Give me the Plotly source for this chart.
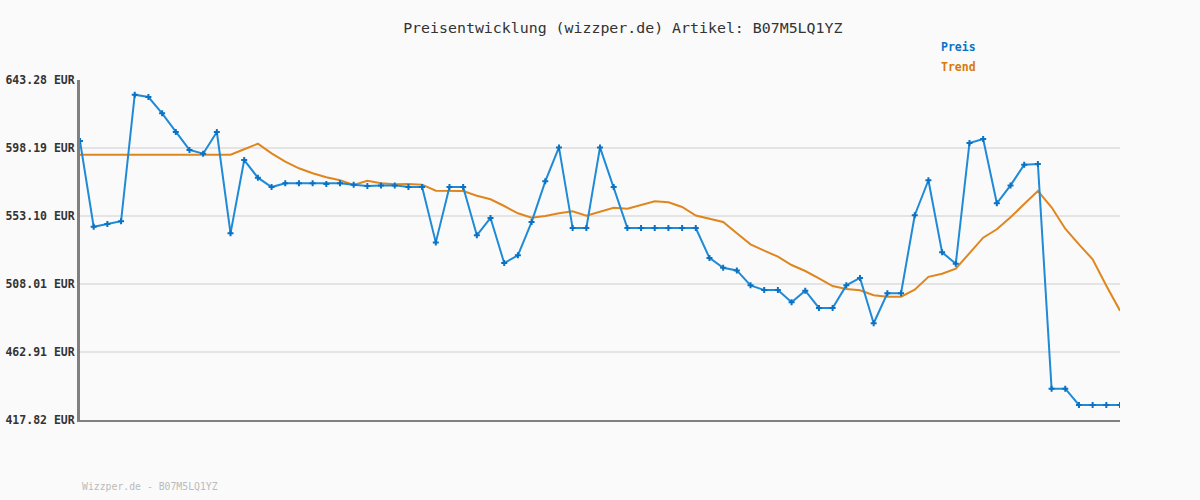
import plotly.graph_objects as go

# price samples (EUR), one per time step
preis = [602.8, 546.0, 547.8, 549.6, 633.5, 632.0, 621.2, 608.8, 596.9, 594.4,
         608.8, 541.6, 590.2, 578.5, 572.3, 574.8, 574.8, 574.8, 574.3, 574.8,
         573.9, 573.0, 573.4, 573.4, 572.3, 572.3, 535.6, 572.3, 572.3, 540.3,
         551.8, 521.9, 527.0, 549.1, 576.1, 598.6, 545.1, 545.1, 598.6, 572.3,
         545.1, 545.1, 545.1, 545.1, 545.1, 545.1, 525.3, 518.8, 517.0, 507.1,
         504.0, 504.0, 495.9, 503.6, 492.1, 492.1, 507.1, 512.0, 482.0, 501.9,
         501.9, 553.6, 576.8, 529.0, 521.5, 601.5, 604.2, 561.5, 573.4, 587.1,
         587.6, 438.6, 438.6, 427.8, 427.8, 427.8, 427.8]

trend = [593.75] * 12 + [
    597.33, 601.04, 594.67, 589.10, 584.73, 581.41, 578.76, 576.77, 573.65,
    576.50, 574.78, 574.12, 574.32, 573.85, 569.87, 569.67, 569.67, 566.56,
    564.17, 559.73, 554.89, 551.97, 553.10, 554.89, 556.21, 553.29, 555.95,
    558.60, 557.94, 560.59, 562.84, 562.18, 559.06, 553.43, 551.24, 549.12,
    541.62, 534.33, 530.09, 526.11, 520.60, 516.62, 511.78, 506.68, 504.69,
    503.83, 500.51, 499.58, 499.58, 504.22, 512.78, 514.83, 518.15, 528.76,
    538.71, 544.28, 552.23, 561.05, 569.67, 558.86, 544.67, 534.33, 524.38,
    506.88, 490.30]

y_ticks = [417.82, 462.91, 508.01, 553.10, 598.19, 643.28]
y_labels = ["<b>%.2f EUR</b>" % v for v in y_ticks]

x = list(range(len(preis)))
font_mono = "DejaVu Sans Mono"

fig = go.Figure()
fig.add_trace(go.Scatter(x=x, y=trend, mode="lines", name="Trend",
                         line=dict(color="#e0861e", width=2)))
fig.add_trace(go.Scatter(x=x, y=preis, mode="lines+markers", name="Preis",
                         line=dict(color="#1f8ad6", width=2),
                         marker=dict(symbol="cross", size=5, color="#0a72c4")))

fig.update_layout(
    width=1200, height=500,
    margin=dict(l=80, r=80, t=80, b=80),
    paper_bgcolor="#fafafa", plot_bgcolor="#fafafa",
    showlegend=False,
    title=dict(text="Preisentwicklung (wizzper.de) Artikel: B07M5LQ1YZ",
               x=0.519, y=0.944, xanchor="center", yanchor="middle",
               font=dict(family=font_mono, size=14.9, color="#333333")),
    font=dict(family=font_mono),
)
fig.update_xaxes(range=[0, len(preis) - 1], showgrid=False, showticklabels=False,
                 showline=True, linecolor="#808080", linewidth=2,
                 zeroline=False, ticks="", automargin=False)
fig.update_yaxes(range=[y_ticks[0], y_ticks[-1]], tickvals=y_ticks, ticktext=y_labels,
                 showgrid=True, gridcolor="#e4e4e4", gridwidth=2,
                 showline=True, linecolor="#808080", linewidth=3,
                 zeroline=False, ticks="", ticklen=0, automargin=False,
                 tickfont=dict(family=font_mono, size=11.5, color="#333333"))

fig.add_annotation(text="<b>Preis</b>", xref="paper", yref="paper", x=0.826, y=1.097,
                   xanchor="left", yanchor="middle", showarrow=False,
                   font=dict(family=font_mono, size=11.5, color="#0a72c4"))
fig.add_annotation(text="<b>Trend</b>", xref="paper", yref="paper", x=0.826, y=1.038,
                   xanchor="left", yanchor="middle", showarrow=False,
                   font=dict(family=font_mono, size=11.5, color="#d87a0a"))
fig.add_annotation(text="Wizzper.de - B07M5LQ1YZ", xref="paper", yref="paper",
                   x=0, y=-0.197, xanchor="left", yanchor="middle", showarrow=False,
                   font=dict(family=font_mono, size=9.8, color="#bbbbbb"))

fig.write_html("out.html", config={"displayModeBar": False},
               post_script="document.body.style.margin='0';")
